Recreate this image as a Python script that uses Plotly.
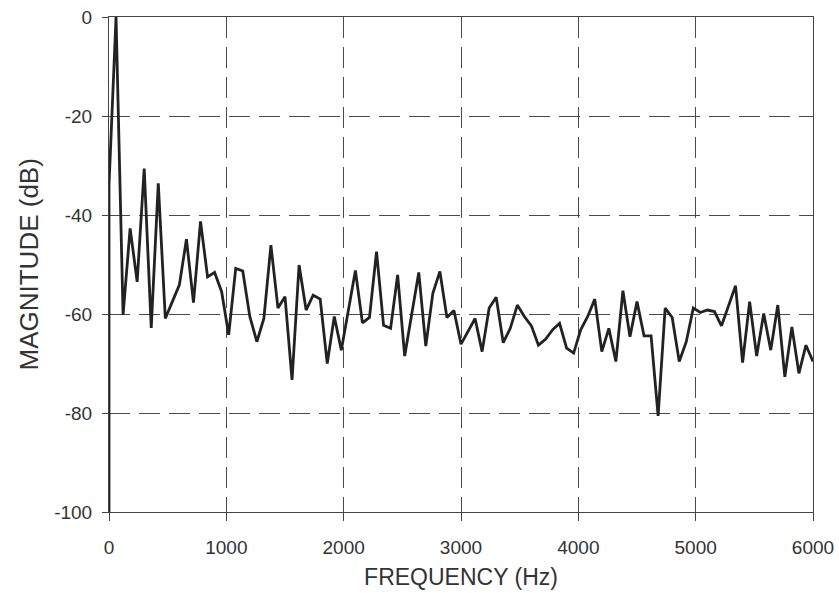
import plotly.graph_objects as go

freq_hz = [0, 0, 60, 120, 180, 240, 300, 360, 420, 480, 540, 600, 660, 720, 780, 840, 900, 960,
           1020, 1080, 1140, 1200, 1260, 1320, 1380, 1440, 1500, 1560, 1620, 1680, 1740, 1800,
           1860, 1920, 1980, 2040, 2100, 2160, 2220, 2280, 2340, 2400, 2460, 2520, 2580, 2640,
           2700, 2760, 2820, 2880, 2940, 3000, 3060, 3120, 3180, 3240, 3300, 3360, 3420, 3480,
           3540, 3600, 3660, 3720, 3780, 3840, 3900, 3960, 4020, 4080, 4140, 4200, 4260, 4320,
           4380, 4440, 4500, 4560, 4620, 4680, 4740, 4800, 4860, 4920, 4980, 5040, 5100, 5160,
           5220, 5280, 5340, 5400, 5460, 5520, 5580, 5640, 5700, 5760, 5820, 5880, 5940, 6000]

magnitude_db = [-100, -34, 0, -60.2, -42.7, -53.5, -30.6, -62.8, -33.6, -60.9, -57.5, -54.1,
                -44.9, -57.7, -41.3, -52.5, -51.6, -55.5,
                -64.2, -50.8, -51.3, -60.5, -65.6, -60.9, -46.1, -58.8, -56.5, -73.3, -50.1,
                -59.2, -56.2, -57.0, -70.0, -60.5, -67.3, -59.5, -51.2, -61.8, -60.7, -47.4,
                -62.3, -62.9, -52.1, -68.5, -60.2, -51.6, -66.5, -55.8, -51.4, -60.7, -59.3,
                -66.1, -63.5, -60.9, -67.6, -58.8, -56.6, -65.8, -62.9, -58.2, -60.5, -62.4,
                -66.3, -65.1, -63.2, -61.9, -66.9, -67.9, -63.2, -60.5, -57.0, -67.6, -62.9,
                -69.6, -55.3, -64.6, -57.5, -64.4, -64.4, -80.6, -58.8, -60.7, -69.6, -65.6,
                -58.8, -59.7, -59.2, -59.5, -62.4, -58.4, -54.3, -69.8, -57.5, -68.5, -59.9,
                -67.3, -58.2, -72.7, -62.6, -72.0, -66.3, -69.6]

x_ticks = [0, 1000, 2000, 3000, 4000, 5000, 6000]
y_ticks = [0, -20, -40, -60, -80, -100]

font_family = "Liberation Sans, Arial, sans-serif"
text_color = "#333333"
grid_color = "#4a4a4a"

fig = go.Figure()
fig.add_trace(go.Scatter(
    x=freq_hz, y=magnitude_db, mode="lines",
    line=dict(color="#222222", width=2.8),
    showlegend=False, hoverinfo="skip",
))

fig.update_layout(
    width=839, height=593,
    margin=dict(l=109, r=26, t=17, b=81),
    paper_bgcolor="white", plot_bgcolor="white",
    font=dict(family=font_family, color=text_color, size=19),
)

fig.update_xaxes(
    range=[0, 6000], tickvals=x_ticks, ticktext=[str(v) for v in x_ticks],
    automargin=False,
    showgrid=True, gridcolor=grid_color, gridwidth=1, griddash="21px,9px",
    showline=True, linecolor="#444444", linewidth=1, mirror=True,
    ticks="outside", ticklen=8, tickcolor="#444444",
    ticklabelstandoff=10,
    zeroline=False,
    tickfont=dict(size=19, color=text_color),
    title=dict(text="FREQUENCY (Hz)", font=dict(size=23, color=text_color), standoff=12),
)
fig.update_yaxes(
    range=[-100, 0], tickvals=y_ticks, ticktext=[str(v) for v in y_ticks],
    automargin=False,
    showgrid=True, gridcolor=grid_color, gridwidth=1, griddash="21px,9px",
    showline=True, linecolor="#444444", linewidth=1, mirror=True,
    ticks="outside", ticklen=6, tickcolor="#444444",
    ticklabelstandoff=6,
    zeroline=False,
    tickfont=dict(size=19, color=text_color),
)

fig.add_annotation(
    text="MAGNITUDE (dB)", textangle=-90,
    xref="paper", yref="paper", x=0, y=0.5,
    xanchor="center", yanchor="middle", xshift=-81,
    showarrow=False, font=dict(size=26, color=text_color),
)

fig.write_html("out.html", config={"displayModeBar": False},
               post_script="document.body.style.margin='0';")
